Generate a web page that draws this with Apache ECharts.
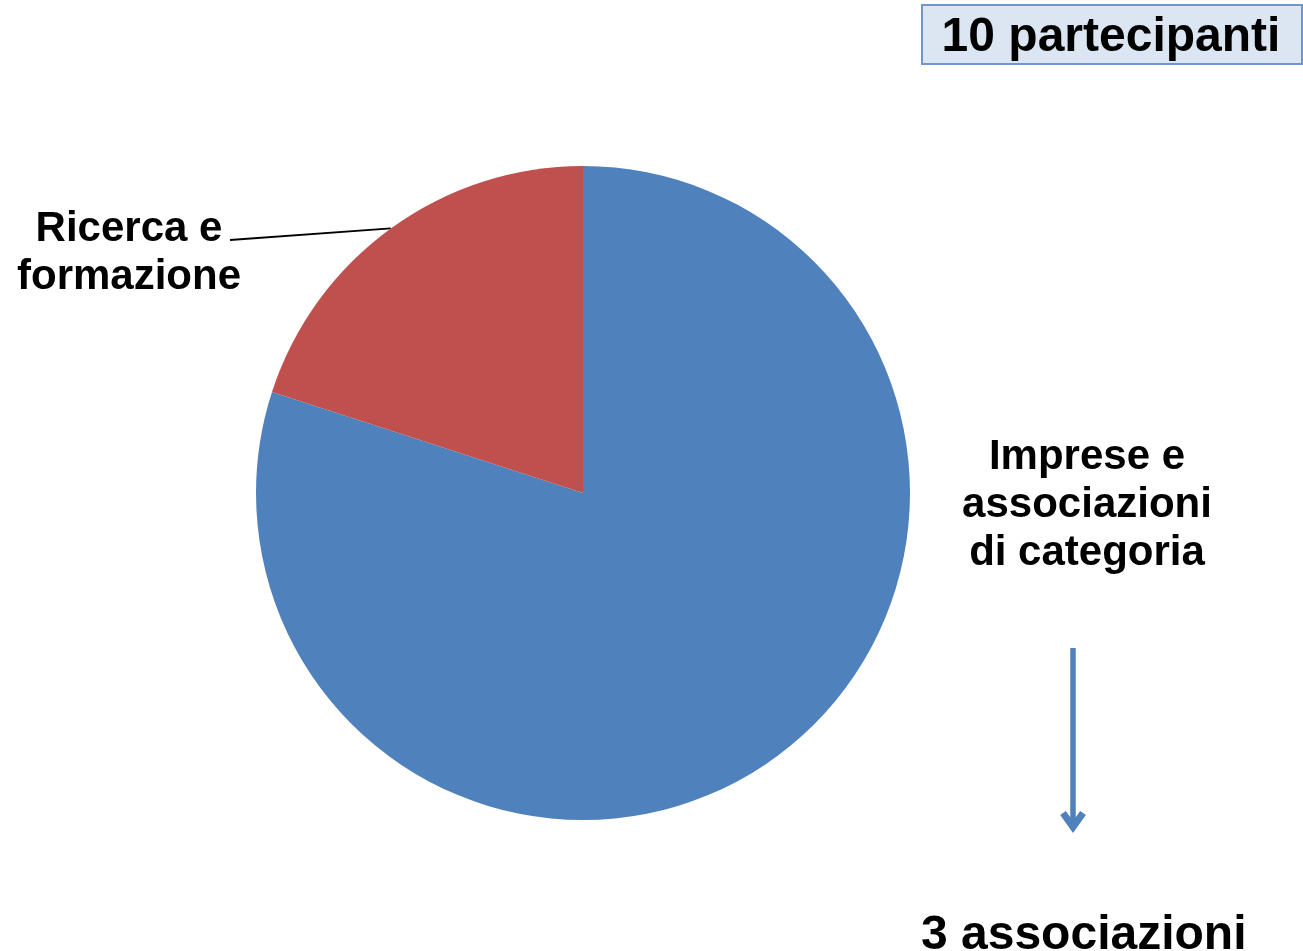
<!DOCTYPE html>
<html>
<head>
<meta charset="utf-8">
<script src="https://cdn.jsdelivr.net/npm/echarts@6/dist/echarts.min.js"></script>
<style>
  html, body { margin: 0; padding: 0; background: #fff; }
  #chart { width: 1303px; height: 951px; }
</style>
</head>
<body>
<div id="chart"></div>
<script>
// dati del grafico
const categories = ['Imprese e\nassociazioni\ndi categoria', 'Ricerca e\nformazione'];
const values = [8, 2];
const colors = ['#4f81bd', '#c0504d'];
const titleText = '10 partecipanti';
const footText = '3 associazioni';

const FONT = '"Liberation Sans", Arial, sans-serif';

// posizione delle etichette (centro del blocco di testo)
const labelPos = [
  { x: 1087, y: 505 },
  { x: 129, y: 253 }
];

const chart = echarts.init(document.getElementById('chart'), null, { renderer: 'canvas' });

const option = {
  backgroundColor: '#fff',
  animation: false,
  series: [{
    type: 'pie',
    center: [583, 493],
    radius: 327,
    startAngle: 90,
    clockwise: true,
    silent: true,
    itemStyle: { borderWidth: 0 },
    label: {
      show: true,
      position: 'outside',
      fontFamily: FONT,
      fontWeight: 'bold',
      fontSize: 42,
      lineHeight: 48,
      color: '#000',
      formatter: '{b}'
    },
    labelLine: {
      show: true,
      length: 20,
      length2: 20,
      lineStyle: { color: '#000', width: 1.8 }
    },
    labelLayout: function (params) {
      const p = labelPos[params.dataIndex];
      const res = { x: p.x, y: p.y, align: 'center', verticalAlign: 'middle' };
      if (params.labelLinePoints && params.labelLinePoints.length) {
        // dal bordo della fetta fino alla fine della prima riga
        res.labelLinePoints = [params.labelLinePoints[0], [p.x + 101, p.y - 13]];
      }
      return res;
    },
    data: categories.map((name, i) => ({
      name: name,
      value: values[i],
      itemStyle: { color: colors[i] },
      labelLine: { show: i === 1 }
    }))
  }],
  graphic: [
    {
      type: 'rect',
      shape: { x: 922, y: 5, width: 380, height: 59 },
      style: { fill: '#dce6f2', stroke: '#7096cc', lineWidth: 2 }
    },
    {
      type: 'text',
      x: 1111, y: 38,
      style: {
        text: titleText,
        fill: '#000',
        font: 'bold 48px ' + FONT,
        textAlign: 'center',
        textVerticalAlign: 'middle'
      }
    },
    {
      type: 'polyline',
      shape: { points: [[1073, 648], [1073, 826]] },
      style: { stroke: '#4f81bd', lineWidth: 5.5 }
    },
    {
      type: 'polyline',
      shape: { points: [[1063, 813], [1073, 827], [1083, 813]] },
      style: { stroke: '#4f81bd', lineWidth: 7, fill: null, lineJoin: 'miter' }
    },
    {
      type: 'text',
      x: 921, y: 960,
      style: {
        text: footText,
        fill: '#000',
        font: 'bold 48px ' + FONT,
        textAlign: 'left',
        textVerticalAlign: 'bottom'
      }
    }
  ]
};

chart.setOption(option);
</script>
</body>
</html>
